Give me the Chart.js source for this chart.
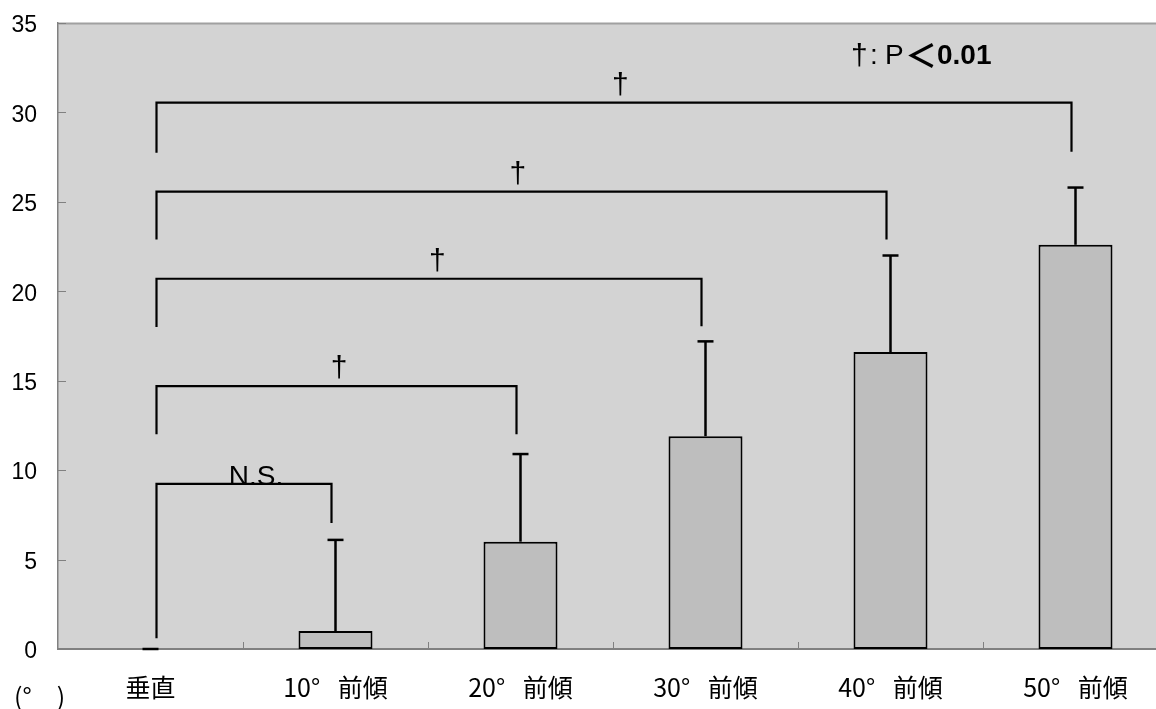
<!DOCTYPE html>
<html>
<head>
<meta charset="utf-8">
<script src="https://cdn.jsdelivr.net/npm/chart.js@4.4.1/dist/chart.umd.min.js"></script>
<style>
html,body{margin:0;padding:0;background:#fff;overflow:hidden;width:1156px;height:709px;}
#wrap{position:absolute;left:0;top:0;width:1170px;height:709px;}
</style>
</head>
<body>
<div id="wrap"><canvas id="c" width="1170" height="709"></canvas></div>
<script>
// ---- data ----
const categories = ["垂直", "10°\u2002\u2009前傾", "20°\u2002\u2009前傾", "30°\u2002\u2009前傾", "40°\u2002\u2009前傾", "50°\u2002\u2009前傾"];
const means      = [0, 1.0, 6.0, 11.9, 16.6, 22.6];
const errorTops  = [0, 6.1, 10.9, 17.2, 22.0, 25.8];
const yTicks     = [0, 5, 10, 15, 20, 25, 30, 35];
// significance brackets: from category 0 to category `bracketTo`
const bracketTo        = [1, 2, 3, 4, 5];
const bracketLevel     = [9.23, 14.7, 20.7, 25.57, 30.55];
const bracketLeftDrop  = [0.6, 12.0, 18.0, 22.9, 27.75];
const bracketRightDrop = [7.05, 12.0, 18.05, 22.9, 27.8];
const bracketLabels    = ["N.S.", "†", "†", "†", "†"];
const bracketLabelPos  = [0.57, 1.02, 1.55, 1.985, 2.54]; // in category units
const noteParts = ["†", ":", "P", "＜", "0.01"];
const unitText = "(°\u3000)";

const sansLatin = '"Liberation Sans", Arial, sans-serif';
const sansJP = '"Noto Sans CJK JP", sans-serif';

const overlay = {
  id: 'overlay',
  beforeDraw(chart) {
    const {ctx, chartArea: a} = chart;
    ctx.save();
    ctx.fillStyle = '#d3d3d3';
    ctx.fillRect(a.left, a.top, a.right - a.left, a.bottom - a.top);
    ctx.restore();
  },
  afterDraw(chart) {
    const {ctx, chartArea: a} = chart;
    const xs = chart.scales.x, ys = chart.scales.y;
    ctx.save();
    // top border
    ctx.strokeStyle = '#a0a0a0';
    ctx.lineWidth = 2;
    ctx.beginPath(); ctx.moveTo(a.left, a.top + 0.5); ctx.lineTo(a.right, a.top + 0.5); ctx.stroke();
    // inward ticks
    ctx.strokeStyle = '#808080';
    ctx.lineWidth = 1;
    yTicks.forEach(v => {
      const y = Math.round(ys.getPixelForValue(v)) + 0.5;
      ctx.beginPath(); ctx.moveTo(a.left, y); ctx.lineTo(a.left + 8, y); ctx.stroke();
    });
    for (let i = 1; i < categories.length; i++) {
      const x = Math.round((xs.getPixelForValue(i - 1) + xs.getPixelForValue(i)) / 2) + 0.5;
      ctx.beginPath(); ctx.moveTo(x, a.bottom); ctx.lineTo(x, a.bottom - 7); ctx.stroke();
    }
    // error bars
    ctx.strokeStyle = '#000';
    ctx.lineWidth = 2.5;
    means.forEach((m, i) => {
      const x = xs.getPixelForValue(i);
      const y0 = ys.getPixelForValue(m), y1 = ys.getPixelForValue(errorTops[i]);
      ctx.beginPath(); ctx.moveTo(x, y0); ctx.lineTo(x, y1); ctx.stroke();
      ctx.beginPath(); ctx.moveTo(x - 8, y1); ctx.lineTo(x + 8, y1); ctx.stroke();
    });
    // brackets
    ctx.lineWidth = 2.2;
    bracketTo.forEach((t, k) => {
      const xl = xs.getPixelForValue(0) + 6;
      const xr = xs.getPixelForValue(t) - 4;
      const yl = ys.getPixelForValue(bracketLevel[k]);
      ctx.beginPath();
      ctx.moveTo(xl, ys.getPixelForValue(bracketLeftDrop[k]));
      ctx.lineTo(xl, yl);
      ctx.lineTo(xr, yl);
      ctx.lineTo(xr, ys.getPixelForValue(bracketRightDrop[k]));
      ctx.stroke();
      const lx = xs.getPixelForValue(0) + bracketLabelPos[k] * (xs.getPixelForValue(1) - xs.getPixelForValue(0));
      ctx.fillStyle = '#000';
      ctx.textAlign = 'center';
      ctx.textBaseline = 'alphabetic';
      if (bracketLabels[k] === '†') {
        ctx.font = '30px ' + sansLatin;
        ctx.fillText('†', lx, yl - 9);
      } else {
        ctx.font = '28px ' + sansLatin;
        ctx.fillText(bracketLabels[k], lx, yl + 1);
      }
    });
    // note text
    ctx.textAlign = 'left';
    ctx.textBaseline = 'alphabetic';
    ctx.fillStyle = '#000';
    ctx.font = '30px ' + sansLatin;
    ctx.fillText(noteParts[0], 851, 65);
    ctx.font = '28px ' + sansLatin;
    ctx.fillText(noteParts[1], 870, 64);
    ctx.fillText(noteParts[2], 885, 64);
    ctx.font = 'bold 32px ' + sansJP;
    ctx.fillText(noteParts[3], 905, 67);
    ctx.font = 'bold 28px ' + sansLatin;
    ctx.fillText(noteParts[4], 937, 64);
    // unit text
    ctx.font = '25px ' + sansJP;
    ctx.textBaseline = 'middle';
    ctx.fillText(unitText, 14, 696);
    ctx.restore();
  }
};

new Chart(document.getElementById('c'), {
  type: 'bar',
  data: {
    labels: categories,
    datasets: [{
      data: means,
      backgroundColor: '#bebebe',
      borderColor: '#000',
      borderWidth: 2,
      borderSkipped: false,
      barPercentage: 0.4,
      categoryPercentage: 1.0
    }]
  },
  options: {
    responsive: false,
    animation: false,
    layout: {padding: {top: 23, right: 2, left: 0, bottom: 0}},
    plugins: {legend: {display: false}, tooltip: {enabled: false}},
    scales: {
      x: {
        offset: true,
        grid: {display: false, drawTicks: false},
        border: {display: true, color: '#808080', width: 2},
        ticks: {color: '#000', font: {family: sansJP, size: 25}, padding: 23, maxRotation: 0, autoSkip: false},
        afterFit(s) { s.height = 60; s.paddingLeft = 0; s.paddingRight = 0; }
      },
      y: {
        min: 0, max: 35,
        grid: {display: false, drawTicks: false},
        border: {display: true, color: '#808080', width: 1.5},
        ticks: {stepSize: 5, color: '#000', font: {family: sansLatin, size: 23}, padding: 21, labelOffset: 3},
        afterFit(s) { s.width = 58; s.paddingTop = 0; s.paddingBottom = 0; }
      }
    }
  },
  plugins: [overlay]
});
</script>
</body>
</html>
